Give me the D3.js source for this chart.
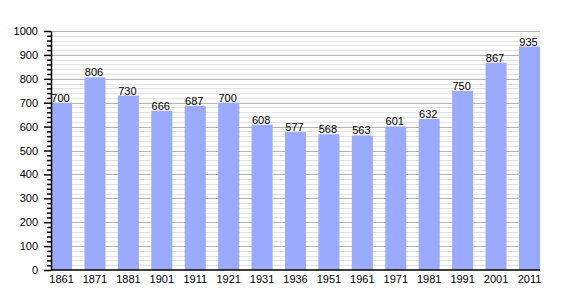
<!DOCTYPE html>
<html>
<head>
<meta charset="utf-8">
<script src="https://cdn.jsdelivr.net/npm/d3@7"></script>
<style>
    body { margin: 0; background: #fff; }
    text { font-family: "Liberation Sans", Arial, sans-serif; }
</style>
</head>
<body>
<div id="chart"></div>
<script>
const years = ['1861', '1871', '1881', '1901', '1911', '1921', '1931', '1936',
    '1951', '1961', '1971', '1981', '1991', '2001', '2011'];
const population = [700, 806, 730, 666, 687, 700, 608, 577, 568, 563, 601, 632, 750, 867, 935];
const majorTicks = [0, 100, 200, 300, 400, 500, 600, 700, 800, 900, 1000];

const width = 570, height = 300;
const margin = { top: 31, right: 30, bottom: 30, left: 51 };

const svg = d3.select('#chart').append('svg')
    .attr('width', width)
    .attr('height', height);

const x = d3.scaleBand()
    .domain(years)
    .range([margin.left, width - margin.right])
    .paddingInner(0.37)
    .paddingOuter(0);

const y = d3.scaleLinear()
    .domain([0, 1000])
    .range([height - margin.bottom, margin.top]);

// minor gridlines every 20
const minorTicks = d3.range(20, 1001, 20).filter(d => d % 100 !== 0);
svg.append('g')
    .selectAll('line')
    .data(minorTicks)
    .enter()
    .append('line')
    .attr('x1', margin.left)
    .attr('x2', width - margin.right)
    .attr('y1', d => Math.round(y(d)) + 0.5)
    .attr('y2', d => Math.round(y(d)) + 0.5)
    .attr('stroke', '#e2e2e2');

// major gridlines
svg.append('g')
    .selectAll('line')
    .data(majorTicks.slice(1))
    .enter()
    .append('line')
    .attr('x1', margin.left)
    .attr('x2', width - margin.right)
    .attr('y1', d => Math.round(y(d)) + 0.5)
    .attr('y2', d => Math.round(y(d)) + 0.5)
    .attr('stroke', '#b4b4b4');

// bars
svg.append('g')
    .selectAll('rect')
    .data(population)
    .enter()
    .append('rect')
    .attr('x', (d, i) => x(years[i]))
    .attr('y', d => y(d))
    .attr('width', x.bandwidth())
    .attr('height', d => y(0) - y(d))
    .attr('fill', '#99aaff');

// value labels
svg.append('g')
    .selectAll('text')
    .data(population)
    .enter()
    .append('text')
    .attr('x', (d, i) => x(years[i]) + x.bandwidth() / 2 - 1)
    .attr('y', d => y(d) - 1)
    .attr('text-anchor', 'middle')
    .attr('font-size', '11px')
    .attr('fill', '#000')
    .text(d => d);

// y axis: minor ticks then major ticks with labels
svg.append('g')
    .attr('transform', `translate(${margin.left},0)`)
    .call(d3.axisLeft(y).tickValues(minorTicks).tickSize(4).tickFormat(''))
    .call(g => g.select('.domain').remove())
    .call(g => g.selectAll('line').attr('stroke', '#000').attr('stroke-width', 1.5));

const yAxis = svg.append('g')
    .attr('transform', `translate(${margin.left},0)`)
    .call(d3.axisLeft(y).tickValues(majorTicks).tickFormat(d3.format('d'))
        .tickSize(7).tickPadding(6).tickSizeOuter(0));
yAxis.selectAll('line').attr('stroke', '#000').attr('stroke-width', 1.5);
yAxis.select('.domain').attr('stroke', '#000').attr('stroke-width', 1.5);
yAxis.selectAll('text').attr('font-size', '11px').attr('fill', '#000')
    .style('font-family', '"Liberation Sans", Arial, sans-serif');

// x axis
const xAxis = svg.append('g')
    .attr('transform', `translate(0,${y(0)})`)
    .call(d3.axisBottom(x).tickSize(0).tickPadding(5).tickSizeOuter(0));
xAxis.select('.domain').attr('stroke', '#000').attr('stroke-width', 1.5)
    .attr('d', `M${margin.left},0H${width - margin.right}`);
xAxis.selectAll('text').attr('font-size', '11px').attr('fill', '#000')
    .style('font-family', '"Liberation Sans", Arial, sans-serif');
</script>
</body>
</html>
